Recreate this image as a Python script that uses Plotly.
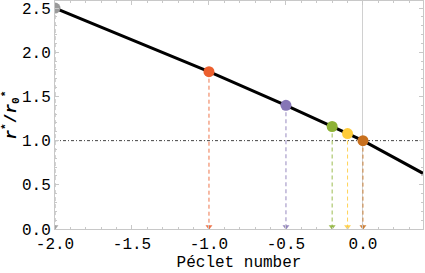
import plotly.graph_objects as go

# Curve r*/r0* vs Péclet number
curve_pe = [-2.0, -1.5, -1.0, -0.5, -0.2, -0.1, 0.0, 0.2, 0.39]
curve_r = [2.50, 2.14, 1.78, 1.40, 1.16, 1.08, 1.00, 0.81, 0.63]

# Highlighted points
pt_pe = [-2.0, -1.0, -0.5, -0.2, -0.1, 0.0]
pt_r = [2.50, 1.78, 1.40, 1.16, 1.08, 1.00]
pt_colors = ["#9a9a9a", "#EC5F2E", "#8676B6", "#8DB234", "#FFCC3A", "#C8701E"]

x_ticks = [-2.0, -1.5, -1.0, -0.5, 0.0]
x_ticklabels = ["-2.0", "-1.5", "-1.0", "-0.5", "0.0"]
y_ticks = [0.0, 0.5, 1.0, 1.5, 2.0, 2.5]
y_ticklabels = ["0.0", "0.5", "1.0", "1.5", "2.0", "2.5"]

FONT = "Liberation Mono"
fig = go.Figure()

# reference line at y = 1
fig.add_trace(go.Scatter(x=[-2.0, 0.39], y=[1.0, 1.0], mode="lines",
                         line=dict(color="#444444", width=1, dash="3px,2px,1px,2px"),
                         hoverinfo="skip", showlegend=False))

# dashed drop lines with arrows
for xv, yv, c in zip(pt_pe, pt_r, pt_colors):
    fig.add_trace(go.Scatter(x=[xv, xv], y=[yv, 0.0], mode="lines",
                             line=dict(color=c, width=1, dash="4px,3px"),
                             opacity=0.85, showlegend=False, hoverinfo="skip"))
    fig.add_trace(go.Scatter(x=[xv], y=[0.025], mode="markers",
                             marker=dict(symbol="triangle-down", size=6, color=c),
                             opacity=0.85, showlegend=False, hoverinfo="skip"))

# main curve
fig.add_trace(go.Scatter(x=curve_pe, y=curve_r, mode="lines",
                         line=dict(color="black", width=3),
                         showlegend=False))

# points
fig.add_trace(go.Scatter(x=pt_pe, y=pt_r, mode="markers",
                         marker=dict(size=11, color=pt_colors),
                         showlegend=False))

axis_common = dict(showline=True, linecolor="#c8c8c8", linewidth=1,
                   mirror="allticks", ticks="inside", ticklen=4,
                   tickcolor="#c8c8c8", showgrid=False, automargin=False,
                   tickfont=dict(family=FONT, size=16, color="black"))

fig.update_layout(
    width=425, height=273,
    margin=dict(l=55, r=2, t=1, b=44),
    paper_bgcolor="white", plot_bgcolor="white",
    xaxis=dict(range=[-2.0, 0.39], tickvals=x_ticks, ticktext=x_ticklabels,
               zeroline=True, zerolinecolor="#d0d0d0", zerolinewidth=1,
               minor=dict(dtick=0.1, tick0=0, ticks="inside", ticklen=2, tickcolor="#c8c8c8"),
               title=dict(text="Péclet number", font=dict(family=FONT, size=16, color="black"),
                          standoff=2),
               **axis_common),
    yaxis=dict(range=[0, 2.58], tickvals=y_ticks, ticktext=y_ticklabels,
               zeroline=False,
               minor=dict(dtick=0.1, tick0=0, ticks="inside", ticklen=2, tickcolor="#c8c8c8"),
               title=dict(text="<b><i>r</i><sup>*</sup>/<i>r</i><sub>0</sub><sup>*</sup></b>",
                          font=dict(family=FONT, size=16, color="black"), standoff=2),
               **axis_common),
)

fig.write_html("out.html",
               config={"displayModeBar": False},
               post_script="document.body.style.margin='0';document.body.style.overflow='hidden';")
